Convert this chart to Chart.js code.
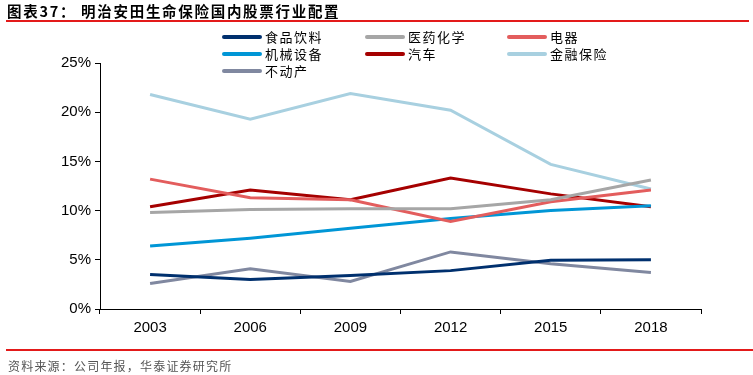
<!DOCTYPE html>
<html><head><meta charset="utf-8">
<script src="https://cdn.jsdelivr.net/npm/chart.js@4/dist/chart.umd.min.js"></script>
<style>
html,body{margin:0;padding:0;background:#fff;}
#wrap{position:relative;width:753px;height:375px;overflow:hidden;font-family:"Noto Sans CJK SC",sans-serif;}
#c{position:absolute;left:0;top:0;}
#title{position:absolute;left:7px;top:0px;font-size:14.5px;font-weight:bold;color:#000;white-space:pre;letter-spacing:1.7px;}
#tline{position:absolute;left:6px;top:20px;width:743px;height:2px;background:#E31A1A;}
#bline{position:absolute;left:6px;top:349px;width:747px;height:2px;background:#E31A1A;}
#src{position:absolute;left:8px;top:357px;font-size:12px;color:#555;letter-spacing:1.2px;}
.lg{position:absolute;font-size:13px;color:#000;line-height:16px;display:flex;align-items:center;letter-spacing:1.5px;}
.lg span.sw{display:inline-block;width:40px;height:4px;border-radius:2px;margin-right:3px;}
</style></head>
<body><div id="wrap">
<canvas id="c" width="753" height="375"></canvas>
<div id="title">图表37： 明治安田生命保险国内股票行业配置</div>
<div id="tline"></div>
<div id="legend"></div>
<div id="bline"></div>
<div id="src">资料来源：公司年报，华泰证券研究所</div>
</div>
<script>
const years = ['2003','2006','2009','2012','2015','2018'];
const seriesNames = ['食品饮料','医药化学','电器','机械设备','汽车','金融保险','不动产'];
const food      = [3.5, 3.0, 3.4, 3.9, 4.95, 5.0];
const pharma    = [9.8, 10.1, 10.2, 10.2, 11.1, 13.1];
const appliance = [13.2, 11.3, 11.1, 8.9, 10.9, 12.1];
const machinery = [6.4, 7.2, 8.2, 9.2, 10.0, 10.5];
const auto      = [10.4, 12.1, 11.1, 13.3, 11.7, 10.4];
const finance   = [21.8, 19.3, 21.9, 20.2, 14.7, 12.2];
const realty    = [2.6, 4.1, 2.8, 5.8, 4.6, 3.7];
const yTicks = [0, 5, 10, 15, 20, 25];

const colors = ['#00306E','#A6A6A6','#E35D5D','#0096D6','#A50000','#A8D0E0','#8088A0'];
const values = [food, pharma, appliance, machinery, auto, finance, realty];

// HTML legend in 3 columns
const legendPos = [[222,29],[365,29],[507,29],[222,46],[365,46],[507,46],[222,63]];
const lg = document.getElementById('legend');
seriesNames.forEach((n,i)=>{
  const d=document.createElement('div');d.className='lg';
  d.style.left=legendPos[i][0]+'px';d.style.top=legendPos[i][1]+'px';
  d.innerHTML='<span class="sw" style="background:'+colors[i]+'"></span>'+n;
  lg.appendChild(d);
});

new Chart(document.getElementById('c'), {
  type:'line',
  data:{
    labels:years,
    datasets: seriesNames.map((n,i)=>({
      label:n, data:values[i], borderColor:colors[i], backgroundColor:colors[i],
      borderWidth:3, pointRadius:0, tension:0, fill:false
    }))
  },
  options:{
    responsive:false, animation:false,
    layout:{padding:{left:0,right:52,top:63,bottom:35}},
    plugins:{legend:{display:false},tooltip:{enabled:false}},
    scales:{
      x:{
        offset:true,
        grid:{offset:true,drawOnChartArea:false,drawTicks:true,tickLength:5,color:'#000'},
        border:{color:'#000',width:1},
        ticks:{color:'#000',font:{family:'"Liberation Sans", Arial',size:15},padding:5,maxRotation:0},
        afterFit:(s)=>{s.height=31;}
      },
      y:{
        min:0,max:25,
        afterBuildTicks:(s)=>{s.ticks=yTicks.map(v=>({value:v}));},
        grid:{drawOnChartArea:false,drawTicks:true,tickLength:5,color:'#000'},
        border:{color:'#000',width:1},
        ticks:{color:'#000',font:{family:'"Liberation Sans", Arial',size:15},padding:4,callback:(v)=>v+'%'},
        afterFit:(s)=>{s.width=100;}
      }
    }
  }
});
</script>
</body></html>
